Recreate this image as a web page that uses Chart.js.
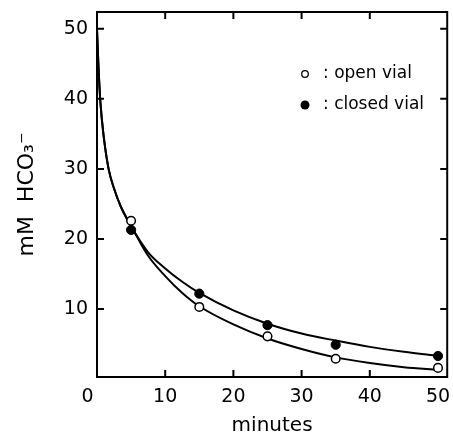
<!DOCTYPE html>
<html>
<head>
<meta charset="utf-8">
<script src="https://cdn.jsdelivr.net/npm/chart.js@4.4.0/dist/chart.umd.min.js"></script>
<style>
html, body { margin: 0; padding: 0; background: #fff; overflow: hidden; }
#wrap { position: relative; width: 453px; height: 438px; overflow: hidden; }
canvas { display: block; }
</style>
</head>
<body>
<div id="wrap"><canvas id="hco3Chart"></canvas></div>
<script>
// measured points
const seriesLabels = ['open vial', 'closed vial'];
const sampleMinutes = [5, 15, 25, 35, 50];
const openVial = [22.6, 10.3, 6.1, 2.9, 1.6];
const closedVial = [21.3, 12.2, 7.7, 4.9, 3.3];

// fitted curves
const curveMinutes = [0, 0.2, 0.5, 1, 1.7, 2.5, 3.5, 5, 7.5, 10, 12.5, 15, 20, 25, 30, 35, 40, 45, 50];
const openCurve = [50, 45, 39.5, 34.5, 30, 27.2, 24.6, 21.9, 17.6, 14.7, 12.3, 10.4, 7.8, 5.8, 4.3, 3.1, 2.3, 1.7, 1.3];
const closedCurve = [50, 45, 39.5, 34.5, 30, 27.2, 24.6, 21.8, 18.1, 15.8, 13.9, 12.3, 9.8, 7.9, 6.5, 5.5, 4.6, 3.9, 3.3];

const xTicks = [0, 10, 20, 30, 40, 50];
const yTicks = [10, 20, 30, 40, 50];

const FONT = '"DejaVu Sans", sans-serif';

function pts(xs, ys) {
    return xs.map((x, i) => ({ x: x, y: ys[i] }));
}

// box, inward ticks on all four sides, and the legend
const framePlugin = {
    id: 'frame',
    afterDraw(chart) {
        const { ctx, chartArea: a, scales } = chart;
        ctx.save();
        ctx.strokeStyle = '#000';
        ctx.lineWidth = 2;
        ctx.strokeRect(a.left, a.top, a.right - a.left, a.bottom - a.top);
        ctx.beginPath();
        yTicks.forEach(v => {
            const y = scales.y.getPixelForValue(v);
            ctx.moveTo(a.left, y); ctx.lineTo(a.left + 7, y);
            ctx.moveTo(a.right, y); ctx.lineTo(a.right - 7, y);
        });
        xTicks.slice(1, -1).forEach(v => {
            const x = scales.x.getPixelForValue(v);
            ctx.moveTo(x, a.bottom); ctx.lineTo(x, a.bottom - 7);
            ctx.moveTo(x, a.top); ctx.lineTo(x, a.top + 7);
        });
        ctx.stroke();

        // legend
        ctx.fillStyle = '#000';
        ctx.font = '17px ' + FONT;
        ctx.textBaseline = 'middle';
        ctx.lineWidth = 1.3;
        ctx.beginPath();
        ctx.arc(305, 74, 3.3, 0, Math.PI * 2);
        ctx.stroke();
        ctx.fillText(': ' + seriesLabels[0], 323, 74);
        ctx.beginPath();
        ctx.arc(305, 105, 4.5, 0, Math.PI * 2);
        ctx.fill();
        ctx.fillText(': ' + seriesLabels[1], 323, 105);
        ctx.restore();
    }
};

new Chart(document.getElementById('hco3Chart'), {
    type: 'scatter',
    data: {
        datasets: [
            {
                label: seriesLabels[0],
                data: pts(sampleMinutes, openVial),
                pointRadius: 4.3,
                pointBorderWidth: 1.5,
                pointBackgroundColor: '#fff',
                pointBorderColor: '#000'
            },
            {
                label: seriesLabels[1],
                data: pts(sampleMinutes, closedVial),
                pointRadius: 4.6,
                pointBorderWidth: 1,
                pointBackgroundColor: '#000',
                pointBorderColor: '#000'
            },
            {
                data: pts(curveMinutes, openCurve),
                showLine: true,
                pointRadius: 0,
                borderColor: '#000',
                borderWidth: 2,
                cubicInterpolationMode: 'monotone'
            },
            {
                data: pts(curveMinutes, closedCurve),
                showLine: true,
                pointRadius: 0,
                borderColor: '#000',
                borderWidth: 2,
                cubicInterpolationMode: 'monotone'
            }
        ]
    },
    options: {
        responsive: true,
        maintainAspectRatio: false,
        animation: false,
        layout: { padding: { top: 12, right: 2, left: 0, bottom: 0 } },
        plugins: { legend: { display: false }, tooltip: { enabled: false } },
        scales: {
            x: {
                type: 'linear',
                min: 0,
                max: 51.35,
                grid: { display: false, drawTicks: false },
                border: { display: false },
                afterBuildTicks: s => { s.ticks = xTicks.map(v => ({ value: v })); },
                afterFit: s => { s.height = 61; s.paddingLeft = 0; s.paddingRight = 0; },
                ticks: {
                    color: '#000', padding: 9, maxRotation: 0,
                    callback: v => (v === 0 ? '0\u2002\u2002' : String(v)),
                    font: { family: FONT, size: 19 }
                },
                title: {
                    display: true,
                    text: 'minutes',
                    color: '#000',
                    padding: { top: 0, bottom: 0 },
                    font: { family: FONT, size: 20 }
                }
            },
            y: {
                type: 'linear',
                min: 0.3,
                max: 52.4,
                grid: { display: false, drawTicks: false },
                border: { display: false },
                afterBuildTicks: s => { s.ticks = yTicks.map(v => ({ value: v })); },
                afterFit: s => { s.width = 97; s.paddingTop = 0; s.paddingBottom = 0; },
                ticks: { color: '#000', padding: 9, font: { family: FONT, size: 19 } },
                title: {
                    display: true,
                    text: 'mM  HCO\u2083\u207B',
                    color: '#000',
                    padding: { top: 14, bottom: 0 },
                    font: { family: FONT, size: 22 }
                }
            }
        }
    },
    plugins: [framePlugin]
});
</script>
</body>
</html>
